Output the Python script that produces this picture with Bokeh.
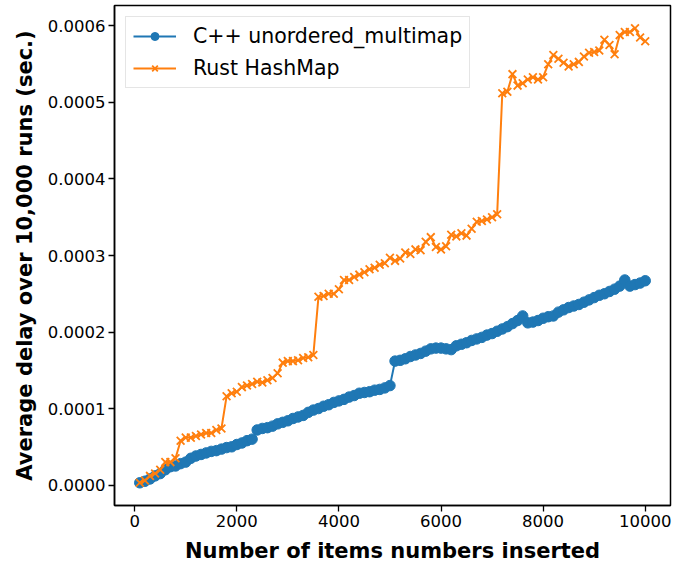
from bokeh.plotting import figure
from bokeh.models import Range1d, FixedTicker, PrintfTickFormatter
from bokeh.embed import file_html
from bokeh.resources import INLINE

# x: number of items inserted
items = list(range(100, 10001, 100))

# average delay (units of 1e-4 s)
cpp_e4 = [0.03, 0.05, 0.08, 0.12, 0.15, 0.20, 0.24, 0.25, 0.28, 0.30,
          0.35, 0.38, 0.40, 0.42, 0.44, 0.45, 0.47, 0.49, 0.50, 0.53,
          0.55, 0.58, 0.60, 0.72, 0.74, 0.75, 0.77, 0.80, 0.82, 0.84,
          0.87, 0.89, 0.91, 0.95, 0.98, 1.00, 1.03, 1.05, 1.08, 1.10,
          1.12, 1.15, 1.17, 1.20, 1.21, 1.22, 1.24, 1.25, 1.27, 1.30,
          1.62, 1.63, 1.65, 1.68, 1.70, 1.72, 1.75, 1.78, 1.79, 1.79,
          1.78, 1.77, 1.82, 1.84, 1.86, 1.89, 1.91, 1.93, 1.96, 1.98,
          2.01, 2.04, 2.07, 2.11, 2.15, 2.21, 2.12, 2.13, 2.15, 2.18,
          2.20, 2.21, 2.26, 2.29, 2.32, 2.34, 2.36, 2.39, 2.42, 2.45,
          2.48, 2.50, 2.53, 2.56, 2.60, 2.68, 2.60, 2.62, 2.64, 2.67]

rust_e4 = [0.03, 0.06, 0.12, 0.15, 0.20, 0.30, 0.30, 0.35, 0.58, 0.62,
           0.62, 0.64, 0.66, 0.68, 0.68, 0.72, 0.74, 1.16, 1.20, 1.22,
           1.28, 1.30, 1.32, 1.35, 1.34, 1.37, 1.40, 1.46, 1.60, 1.62,
           1.62, 1.63, 1.66, 1.67, 1.70, 2.46, 2.47, 2.50, 2.50, 2.56,
           2.68, 2.68, 2.72, 2.75, 2.78, 2.82, 2.84, 2.88, 2.90, 2.97,
           2.93, 2.96, 3.04, 3.02, 3.08, 3.07, 3.18, 3.24, 3.11, 3.08,
           3.12, 3.27, 3.25, 3.29, 3.26, 3.35, 3.44, 3.45, 3.47, 3.50,
           3.54, 5.12, 5.14, 5.37, 5.22, 5.25, 5.30, 5.33, 5.30, 5.33,
           5.50, 5.62, 5.57, 5.52, 5.47, 5.50, 5.53, 5.60, 5.65, 5.66,
           5.68, 5.82, 5.75, 5.63, 5.88, 5.92, 5.92, 5.97, 5.85, 5.80]

x_ticks = [0, 2000, 4000, 6000, 8000, 10000]
y_ticks = [0.0, 0.0001, 0.0002, 0.0003, 0.0004, 0.0005, 0.0006]

cpp = [v * 1e-4 for v in cpp_e4]
rust = [v * 1e-4 for v in rust_e4]

BLUE = "#1f77b4"
ORANGE = "#ff7f0e"
FONT = "DejaVu Sans"

xmin, xmax = min(items), max(items)
xpad = 0.05 * (xmax - xmin)
allv = cpp + rust
ymin, ymax = min(allv), max(allv)
ypad = 0.05 * (ymax - ymin)

p = figure(frame_width=556, frame_height=500,
           x_range=Range1d(xmin - xpad, xmax + xpad),
           y_range=Range1d(ymin - ypad, ymax + ypad),
           output_backend="svg", toolbar_location=None,
           min_border_left=114, min_border_right=12,
           min_border_top=5, min_border_bottom=54)

p.background_fill_color = "white"
p.border_fill_color = "white"
p.outline_line_color = "black"
p.outline_line_width = 1.5
p.xgrid.visible = False
p.ygrid.visible = False

p.line(items, cpp, line_color=BLUE, line_width=2, legend_label="C++ unordered_multimap")
p.scatter(items, cpp, marker="circle", size=10.5, fill_color=BLUE, line_color=BLUE,
          legend_label="C++ unordered_multimap")
p.line(items, rust, line_color=ORANGE, line_width=2, legend_label="Rust HashMap")
p.scatter(items, rust, marker="x", size=11, line_color=ORANGE, line_width=1.8,
          legend_label="Rust HashMap")

for ax in (p.xaxis[0], p.yaxis[0]):
    ax.major_label_text_font = FONT
    ax.major_label_text_font_size = "16.5px"
    ax.major_label_text_color = "black"
    ax.axis_label_text_font = FONT
    ax.axis_label_text_font_size = "21px"
    ax.axis_label_text_font_style = "bold"
    ax.axis_label_text_color = "black"
    ax.minor_tick_line_color = None
    ax.major_tick_in = 0
    ax.major_tick_out = 6
    ax.major_tick_line_color = "black"
    ax.major_tick_line_width = 1.3
    ax.axis_line_color = "black"
    ax.axis_line_width = 1.5
    ax.major_label_standoff = 3

p.xaxis.ticker = FixedTicker(ticks=x_ticks)
p.yaxis.ticker = FixedTicker(ticks=y_ticks)
p.yaxis.formatter = PrintfTickFormatter(format="%.4f")
p.xaxis.axis_label = "Number of items numbers inserted"
p.yaxis.axis_label = "Average delay over 10,000 runs (sec.)"
p.xaxis.axis_label_standoff = 9
p.yaxis.axis_label_standoff = 8

lg = p.legend[0]
lg.location = "top_left"
lg.margin = 11
lg.padding = 7
lg.spacing = 8
lg.label_text_font = FONT
lg.label_text_font_size = "20.5px"
lg.label_text_color = "black"
lg.glyph_width = 43
lg.glyph_height = 20
lg.label_standoff = 17
lg.border_line_color = "#cccccc"
lg.border_line_width = 1
lg.background_fill_alpha = 0.8

open("out.html", "w").write(file_html(p, INLINE))
